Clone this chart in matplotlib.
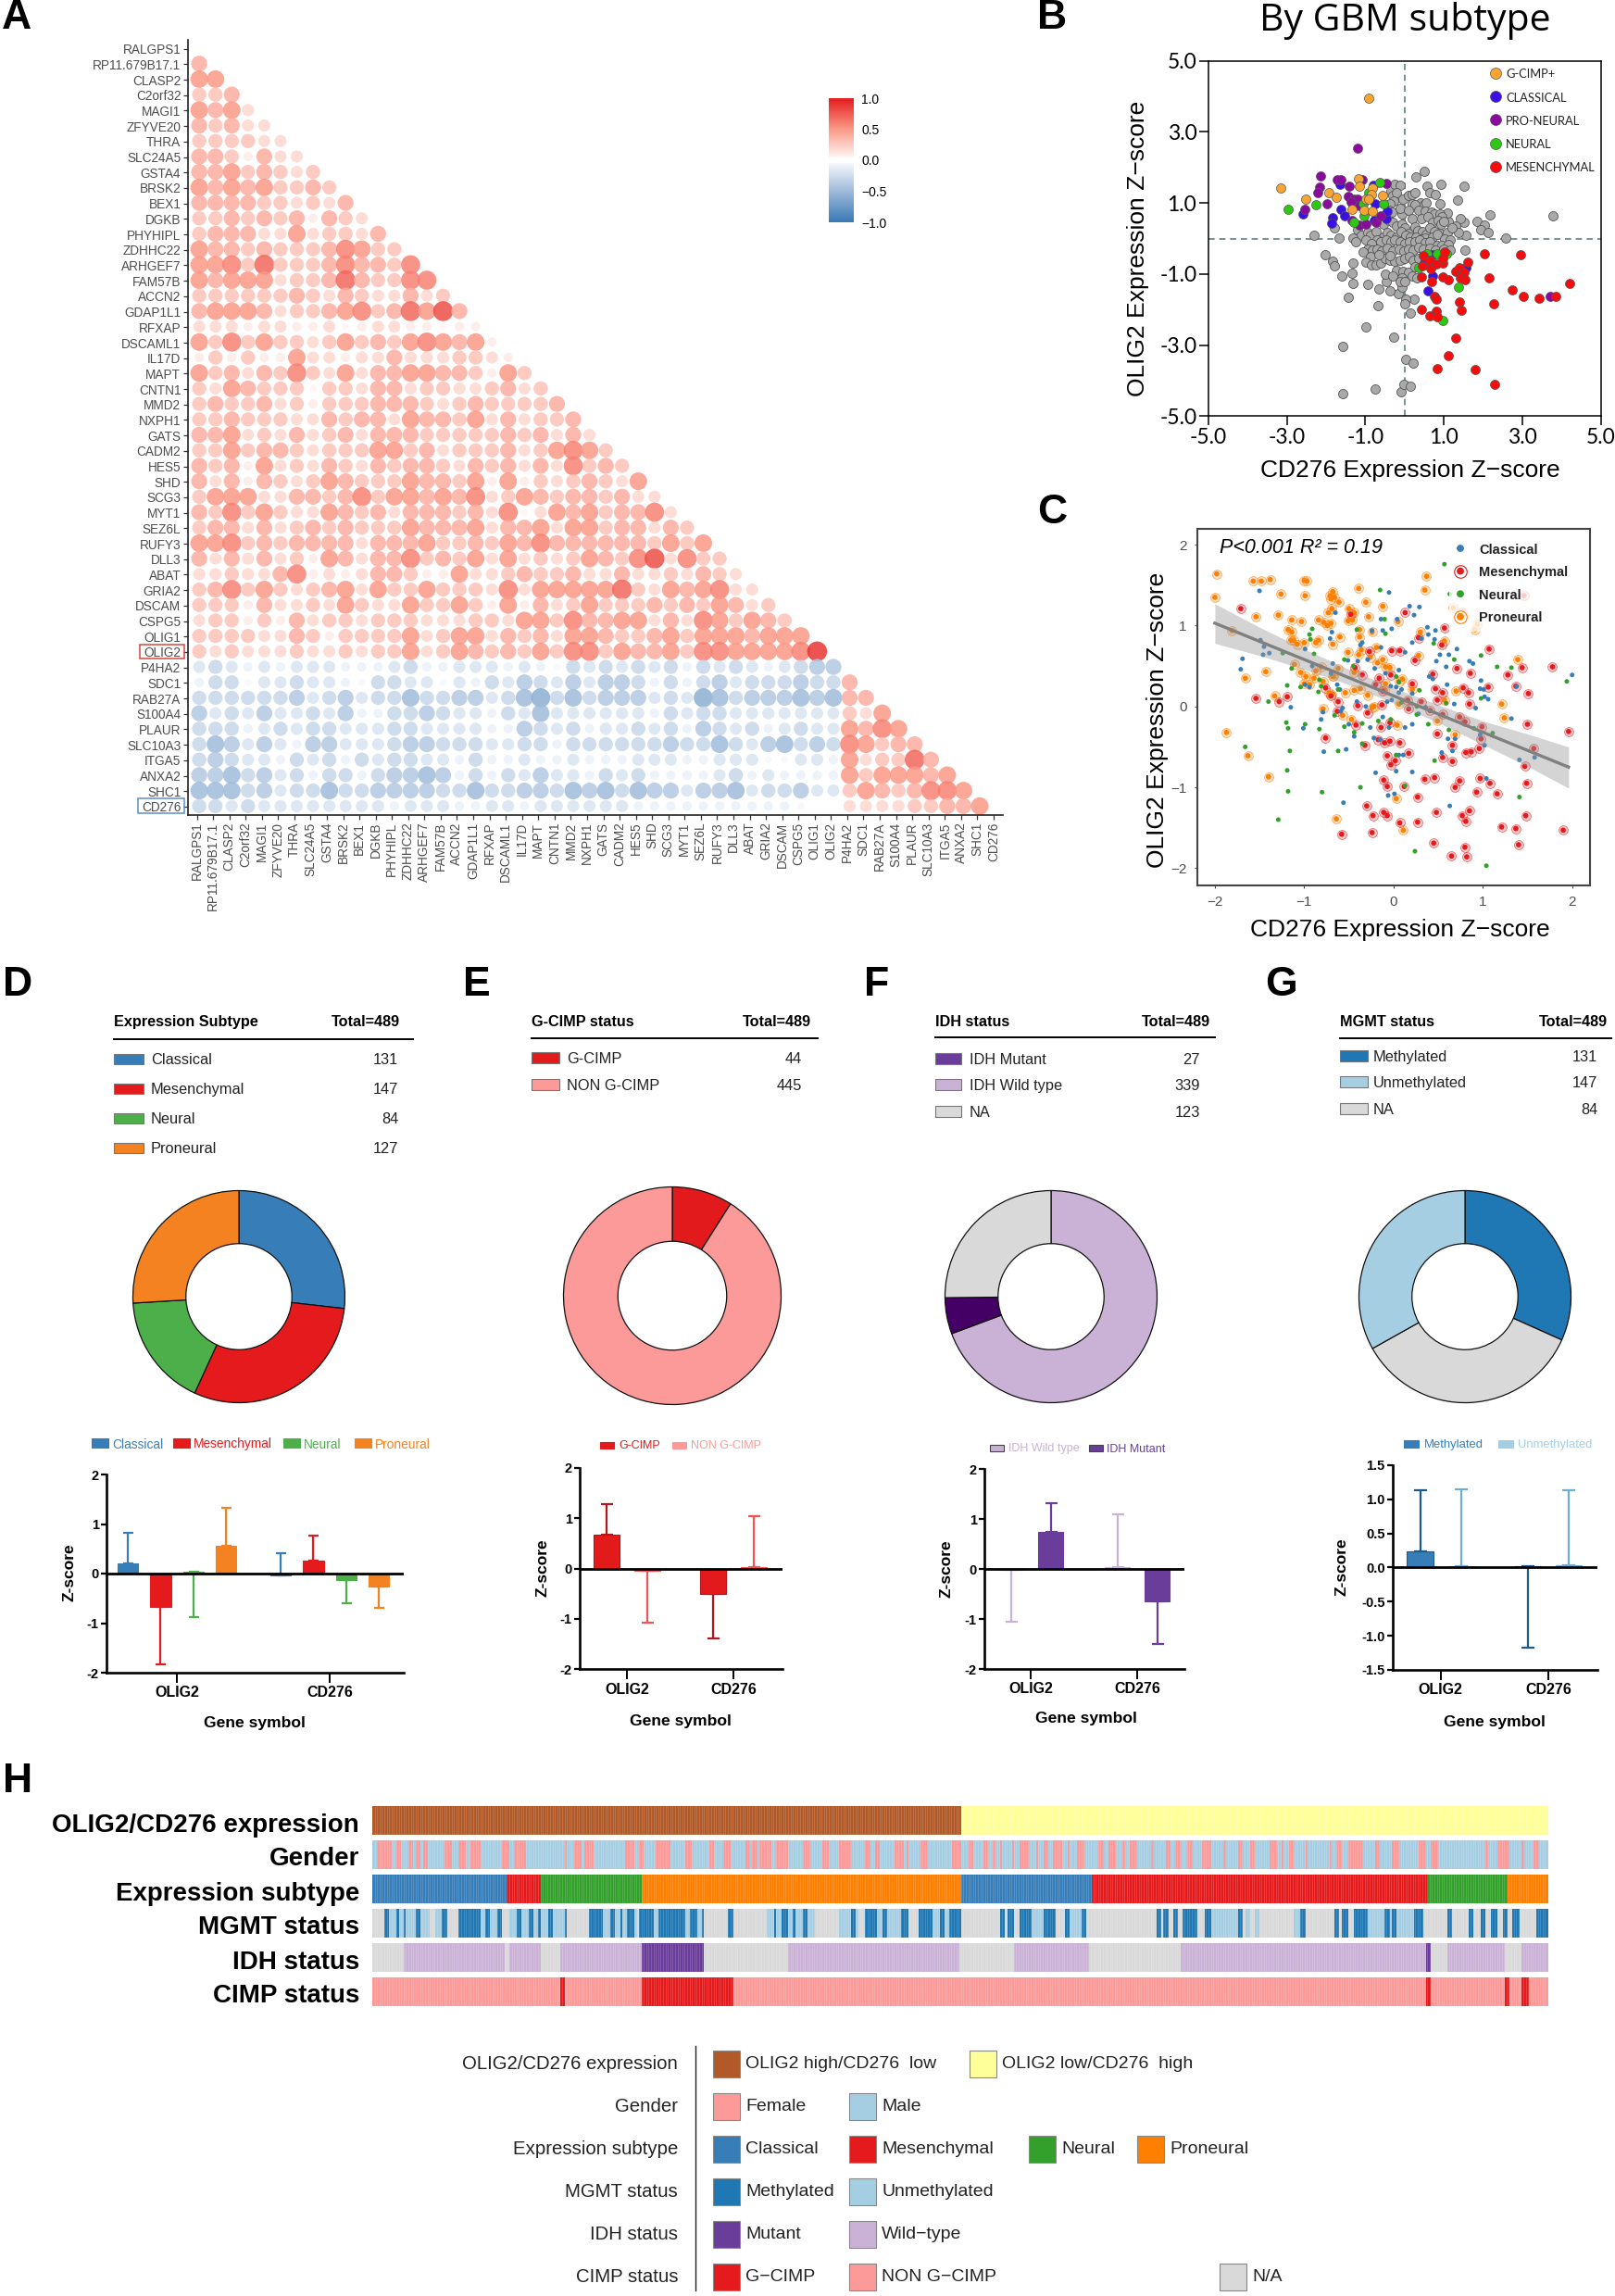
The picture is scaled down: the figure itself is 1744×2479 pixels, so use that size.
import numpy as np
import matplotlib
matplotlib.use('Agg')
from matplotlib import pyplot as plt
from matplotlib.colors import LinearSegmentedColormap, ListedColormap
from matplotlib.patches import Rectangle

plt.rcParams['font.family'] = ['Liberation Sans', 'DejaVu Sans']

W, H = 1744, 2479
fig = plt.figure(figsize=(W / 100, H / 100), dpi=100, facecolor='white')

# ---------- Panel A data: one string per row, digit = |r| * 10 (0 = tiny, . = empty)
genes = ['RALGPS1', 'RP11.679B17.1', 'CLASP2', 'C2orf32', 'MAGI1', 'ZFYVE20', 'THRA', 'SLC24A5', 'GSTA4', 'BRSK2',
         'BEX1', 'DGKB', 'PHYHIPL', 'ZDHHC22', 'ARHGEF7', 'FAM57B', 'ACCN2', 'GDAP1L1', 'RFXAP', 'DSCAML1',
         'IL17D', 'MAPT', 'CNTN1', 'MMD2', 'NXPH1', 'GATS', 'CADM2', 'HES5', 'SHD', 'SCG3',
         'MYT1', 'SEZ6L', 'RUFY3', 'DLL3', 'ABAT', 'GRIA2', 'DSCAM', 'CSPG5', 'OLIG1', 'OLIG2',
         'P4HA2', 'SDC1', 'RAB27A', 'S100A4', 'PLAUR', 'SLC10A3', 'ITGA5', 'ANXA2', 'SHC1', 'CD276']
corr_rows = ['', '4', '55', '334', '5452', '43422', '333322', '4431422', '44534323', '545453343',
             '4444332324', '33434341432', '344422523324', '5443433346533', '55637333464436', '545552334743366',
             '3333334324322423', '45554233456347584', '222122112012211011', '5363533235343565451',
             '13131152212242223321', '534243632524455443153', '3254333033244233223423',
             '34334231333444323433' + '334', '33433322434425443524' + '2334',
             '44523242342444333334' + '34242', '33534432333553423334' + '235653',
             '43415232432434432434' + '2426343', '42414323543335443515' + '13234325',
             '35552244346355454623' + '543443422', '43635322543424443426' + '0254534462',
             '34424234343335444524' + '45255344243', '55634344442444533435' + '464444443535',
             '42424231542446343525' + '2323543682633', '22322461212443115223' + '43342242232432',
             '34635323452533533326' + '255555732545622', '33314223253225335315' + '1423533343435423',
             '23313142332333222332' + '55364455242653543', '33332243133335235524' + '342554334535554555',
             '32322232232335235434' + '3536635445366555569',
             '23212122211123112221' + '21032323231323212344',
             '13302232210332202132' + '43242443131342333433' + '4',
             '33333342342335334423' + '56353444232653444545' + '44',
             '42324223241133432213' + '25222222132332222222' + '325',
             '33312323322233222211' + '43231223231432312322' + '5465',
             '35424214422234433322' + '33133333343353245343' + '65344',
             '34322132313233221311' + '21121112221122200221' + '523374',
             '44534231331344541313' + '24221323111123121111' + '5355545',
             '55534233533444433533' + '44354535442445233422' + '35434665',
             '33232222222212221122' + '122222211111111110..' + '222233445']
n_neg_cols = 40
n_neg_start = 40

# ---------- Panel B data (CD276 z, OLIG2 z)
b_gcimp = [(-.92, 3.96), (-3.15, 1.43), (-2.51, 1.11), (-1.94, 1.28), (-1.75, 1.17), (-1.18, 1.69), (-1.16, 1.46),
           (-.82, 1.43), (-.84, 1.25), (-.57, 1.22), (-.99, 1.12), (-.92, 1.10), (-1.03, .80), (-.82, .77), (-1.33, .83)]
b_classical = [(-2.59, .68), (-1.84, .58), (-1.86, .43), (-1.63, .83), (-1.53, .65), (-1.64, 1.52), (-.81, 1.5),
               (-.48, .57), (-.44, .78), (-.78, .5), (-.75, .97), (.58, -1.46), (.72, -1.06), (1.57, -.82), (.49, -.68), (.7, -.46)]
b_proneural = [(-1.21, 2.53), (-2.15, 1.76), (-2.16, 1.44), (-2.21, 1.3), (-2.54, .83), (-1.97, .97), (-1.71, 1.66),
               (-1.63, 1.65), (-1.41, 1.48), (-1.09, 1.65), (-.48, 1.55), (-1.43, 1.19), (-1.29, 1.1), (-1.2, 1.1),
               (-1.16, .93), (-1.37, 1.02), (-1.16, .39), (-.99, .41), (-.74, .45), (-.61, .65), (3.71, -1.64), (-1.33, .5)]
b_neural = [(-2.97, .82), (-2.25, .94), (-1.3, .46), (-1.03, .64), (-1.06, .97), (-.92, 1.28), (-.64, 1.57), (-.53, .97),
            (.36, -.83), (.56, -.43), (.83, -.42), (1.06, -.44), (1.38, -1.36), (.98, -2.3)]
b_mesenchymal = [(.47, -.48), (.45, -.78), (.65, -.62), (.66, -.85), (.81, -.72), (.98, -.68), (.98, -.55), (1.01, -.37),
                 (.43, -1.08), (.69, -1.22), (.98, -1.09), (1.1, -1.16), (1.29, -.93), (1.4, -.83), (1.51, -.94), (1.61, -.67),
                 (1.42, -1.11), (1.53, -1.16), (2.03, -.44), (2.95, -.46), (2.14, -1.11), (2.73, -1.44), (3.03, -1.62),
                 (3.42, -1.68), (3.84, -1.64), (4.2, -1.26), (2.26, -1.83), (.76, -1.62), (.81, -1.7), (1.4, -1.78), (1.43, -2.02),
                 (.42, -1.99), (.8, -2.04), (.64, -2.18), (.83, -2.2), (1.31, -2.8), (1.12, -3.29), (.83, -3.65), (1.79, -3.69), (2.28, -4.1)]
b_other = [(-2.3, .08), (-1.68, .02), (-1.8, .3), (-2.03, -.45), (-1.84, -.65), (-1.78, -.77), (-1.59, -1.05), (-1.34, -.98),
           (-1.32, -1.26), (-1.31, -.7), (-.94, -1.29), (-.65, -1.43), (-1.44, -1.66), (-.67, -1.88), (-.98, -2.48), (-.29, -2.77),
           (-1.58, -3.04), (.02, -3.39), (.22, -3.51), (-.76, -4.23), (-1.57, -4.36), (-.1, -4.32), (-.01, -4.11), (.15, -4.17),
           (.15, -2.11), (.24, -1.7), (.03, -1.72), (.01, -1.83), (-.16, -1.55), (-.37, -1.48), (-.06, -1.37), (-.48, -1.22), (-.5, -1),
           (.5, 1.9), (.29, 1.73), (.92, 1.53), (1.5, 1.46), (.57, 1.47), (.64, 1.29), (1.34, 1.09), (.79, 1.23), (.9, .99),
           (2.17, .66), (3.77, .65), (1.85, .48), (2.02, .37), (1.93, .26), (2.12, .17), (2.58, .02), (1.55, .09), (1.51, .45),
           (1.42, .57), (1.3, .34), (1.38, .17), (1.11, .47), (1.08, .71), (1.53, -.33),
           (-.35, 1.35), (-.25, 1.53), (-.12, 1.51), (-.3, 1.2), (-.2, 1.28), (-.05, 1.1), (.1, 1.22), (.2, 1.25), (.27, 1.28), (.4, 1.0),
           (.5, .95), (.55, 1.0), (.2, .98), (.25, .95), (-.28, 1.05), (-.38, .97), (-.4, .8), (-.32, .75), (-.08, .7), (-.12, .85),
           (.1, .8), (.35, .8), (.52, .77), (.68, .75), (.75, .7), (.9, .7), (.95, .6), (.2, .57), (.42, .55), (.6, .62), (.71, .45),
           (.85, .5), (.92, .4), (1.0, .47), (-.55, .4), (-.4, .5), (-.3, .45), (-.2, .35), (-.08, .4), (0, .3), (.1, .15), (.27, .33),
           (.33, .22), (.45, .2), (.55, .12), (.65, .3), (.75, .2), (.9, .15), (1.08, .17), (1.2, .3), (-1.2, .25), (-1.1, .1),
           (-.95, .18), (-.87, .1), (-.72, .2), (-.55, .05), (-.45, .18), (-.35, .1), (-.2, .05), (-.1, .2), (.02, .1), (.15, .05),
           (.28, .03), (.42, 0), (.52, .02), (.7, .05), (.83, .12), (1.02, -.02), (1.15, -.05), (-1.31, .02), (-1.25, -.08), (-.98, -.05),
           (-.7, -.05), (-.85, -.15), (-.6, -.1), (-.48, -.05), (-.36, -.1), (-.25, -.03), (-.12, -.1), (.0, -.15), (.13, -.08), (.25, -.1),
           (.38, -.05), (.52, -.13), (.63, -.1), (.82, -.2), (.95, -.2), (1.1, -.18), (-.95, -.3), (-1.05, -.38), (-.82, -.32), (-.7, -.3),
           (-.58, -.35), (-.45, -.28), (-.3, -.35), (-.15, -.3), (-.03, -.35), (.1, -.3), (.22, -.33), (.35, -.25), (.48, -.3), (.65, -.28),
           (.78, -.33), (1.0, -.3), (1.15, -.32), (-.88, -.5), (-.98, -.66), (-.85, -.73), (-.72, -.75), (-.62, -.7), (-.5, -.55),
           (-.38, -.62), (-.25, -.65), (-.12, -.62), (0, -.55), (.12, -.52), (.22, -.6), (.35, -.55), (-.38, -.47), (-.65, -.45),
           (-.2, -.9), (-.05, -.92), (.1, -.95), (.2, -1.05), (.32, -1.12), (-.3, -1.05), (-.08, -1.1), (-.12, -1.2), (.0, -1.2), (.27, -.8)]
b_ticks = [-5, -3, -1, 1, 3, 5]

# ---------- Panel C data
c_proneural = [(-1.98, 1.64), (-2, 1.35), (-1.57, 1.55), (-1.48, 1.55), (-1.38, 1.57), (-1.26, 1.39), (-1, 1.56), (-.97, 1.55), (-.99, 1.37),
               (-.68, 1.42), (-.71, 1.37), (-.66, 1.35), (-.7, 1.33), (-.61, 1.29), (-.39, 1.46), (-.31, 1.29), (-.12, 1.24), (.35, 1.44), (.37, 1.61),
               (-1.54, 1.11), (-1.29, 1.13), (-1.14, 1.07), (-1.03, 1.05), (-.84, 1.07), (-.78, 1.04), (-.74, 1), (-.7, 1.03), (-.69, 1.21), (-.73, 1.16),
               (-.5, 1.21), (-.44, 1.16), (-.51, 1.06), (-.46, 1.07), (-.28, 1.11), (.05, 1.05), (-1.81, .94), (-1.18, .95), (-1.14, .92), (-1.15, .82),
               (-1.12, .82), (-1.08, .77), (-1, .79), (-.87, .79), (-.84, .82), (-.68, .77), (-.6, .86), (-.38, .95), (-.38, .86), (-.24, .92), (.3, .92),
               (.57, .81), (-.51, .67), (-.39, .64), (-.36, .7), (-.26, .61), (-.19, .73), (-.18, .54), (-.12, .58), (-.09, .49), (-.04, .48), (.28, .63),
               (1.39, .58), (-1.66, .35), (-1.43, .43), (-1.11, .52), (-1.04, .42), (-.98, .37), (-1, .28), (-.94, .27), (-.89, .35), (-.87, .44), (-.81, .49),
               (-.79, .31), (-.68, .37), (-.67, .37), (-.62, .47), (-.44, .42), (.1, .34), (.06, .31), (-.09, .28), (.21, .21), (.7, .19), (-1.33, .13),
               (-.72, .17), (-.69, .15), (-.54, .17), (-.44, .2), (-.37, .22), (-.29, .14), (-.1, .2), (.57, .08), (1.21, .03), (-.79, -.03), (-.57, -.11),
               (-.22, 0), (-.24, -.01), (.06, .03), (1.24, -.14), (-.47, -.16), (.04, -.23), (.49, -.18), (.69, -.35), (-1.87, -.32), (-1.63, -.61),
               (-1.4, -.87), (.03, -1.14), (-.64, -1.39), (.11, -1.53), (.91, .95), (.94, 1.02), (.67, 1.22)]
c_mesenchymal = [(-1.71, 1.21), (-.48, 1.14), (.13, 1.16), (.28, .85), (.54, .76), (1.07, .71), (-.27, .68), (-.02, .69), (.07, .69), (.24, .57), (.71, .47),
                 (.86, .41), (1.28, .39), (1.44, .48), (1.78, .49), (.44, .4), (-.43, .48), (-.35, .39), (-.16, .35), (-.03, .39), (.21, .28), (.47, .22), (.55, .17),
                 (.78, .23), (.84, .17), (1.06, .24), (1.37, .25), (1.51, .16), (-1.54, .1), (-1.28, .06), (-1.19, .12), (-.76, .23), (-.7, .13), (-.62, .06), (-.4, .01),
                 (-.13, .02), (-.2, .27), (-.12, .19), (.16, .08), (.31, .06), (.49, .08), (.85, .03), (.17, -.03), (-.29, -.08), (-.63, -.06), (.41, -.05), (.55, -.1),
                 (.74, -.13), (.8, -.19), (.99, -.25), (1.5, -.22), (1.96, -.31), (-.42, -.23), (-.14, -.26), (-.04, -.2), (.49, -.34), (.98, -.4), (-.76, -.39), (-.32, -.48),
                 (-.17, -.41), (-.1, -.45), (-.04, -.43), (.07, -.45), (.66, -.48), (.96, -.52), (1.57, -.52), (.81, -.57), (.87, -.56), (.17, -.58), (-.07, -.61), (.55, -.63),
                 (.02, -.67), (-.03, -.72), (.66, -.68), (1.47, -.74), (-.11, -.91), (-.07, -.99), (.12, -.99), (.35, -.9), (.46, -.88), (.74, -.92), (.97, -.89), (1.08, -.95),
                 (1.49, -.95), (.69, -1), (.93, -1.06), (1.16, -1.08), (.27, -1.12), (-.3, -1.23), (.48, -1.31), (-.11, -1.31), (-.23, -1.35), (-.07, -1.35), (.77, -1.35),
                 (.85, -1.29), (1.48, -1.35), (.81, -1.42), (.07, -1.44), (.27, -1.43), (1.21, -1.49), (1.37, -1.51), (1.9, -1.53), (-.58, -1.58), (-.24, -1.56), (.45, -1.69),
                 (1.4, -1.71), (.8, -1.74), (.65, -1.85), (.82, -1.86), (1.46, 1.37), (.77, 1.16), (.57, .97)]
c_classical = [(-1.5, 1.43), (-.05, 1.41), (.18, 1.24), (.29, 1.23), (.23, 1.13), (-.65, 1.16), (.04, 1.08), (-.14, 1.08), (-.12, .94), (-.02, .96), (-.24, .94),
               (.38, .98), (.47, .94), (.39, .89), (.31, .84), (.46, .83), (.21, .79), (-.69, .92), (-.71, .84), (-1.49, .82), (-1.45, .74), (-1.46, .64), (-1.39, .66),
               (-1.69, .59), (-1.71, .46), (-.99, .71), (-.37, .76), (-.35, .79), (-.14, .73), (.13, .67), (.71, .71), (.52, .64), (.62, .64), (.48, .56), (.59, .49),
               (.85, .56), (.89, .53), (-.51, .57), (-.4, .56), (-.29, .58), (-.21, .47), (.06, .45), (-.91, .5), (-.68, .53), (-.7, .41), (-.09, .41), (.4, .37), (.44, .34),
               (.6, .27), (.98, .32), (.97, .22), (1.01, .21), (1.38, .25), (2, .39), (-.99, .27), (-.94, .24), (-.63, .27), (-.6, .21), (-.03, .25), (.03, .24), (.09, .21),
               (.06, .17), (.21, .16), (1.02, .12), (1.06, .09), (-.07, .06), (-.02, .08), (-.41, .06), (-.31, 0), (.68, .03), (-1.15, -.01), (-.57, -.02), (-.59, -.06),
               (-.79, -.07), (.92, -.02), (.28, -.09), (.36, -.01), (-.12, -.13), (-.81, -.16), (-.5, -.22), (-.26, -.26), (-.05, -.26), (.13, -.26), (.21, -.22), (-1.01, -.27),
               (-.44, -.37), (-.22, -.39), (-.15, -.41), (1.32, -.15), (.97, -.35), (.61, -.4), (.69, -.4), (1.02, -.48), (.66, -.55), (.54, -.57), (-.78, -.56), (-.53, -.53),
               (.06, -.6), (.11, -.6), (1.41, -.66), (1.58, -.63), (.03, -.8), (-.2, -.82), (.21, -.81), (1.04, -.89), (-.06, -1.1), (.01, -1.08), (-.56, -1.19), (.63, -1.23)]
c_neural = [(.57, 1.76), (.63, 1.39), (.98, 1.43), (-.15, 1.44), (-.1, 1.08), (-.41, .95), (-.09, .9), (-.94, .89), (-.91, .96), (-.93, .83), (.45, .78), (-.89, .65),
            (-1.24, .66), (.98, .63), (-.55, .58), (-.45, .5), (.68, .58), (-1.14, .47), (1.16, .49), (1.32, .48), (1.94, .31), (-1.19, .26), (-1.04, .24), (-.83, .33),
            (-.81, .25), (-.84, .18), (-.62, .21), (.03, .37), (.06, .3), (.29, .2), (-1.4, .06), (.98, .1), (.59, .04), (.26, 0), (.09, .05), (-.66, -.11), (.26, -.1),
            (-1.2, -.2), (-.99, -.22), (-1.18, -.27), (-.83, -.28), (-.55, -.25), (-.35, -.21), (-.44, -.32), (-.03, -.16), (-.17, -.18), (.39, -.22), (.62, -.29),
            (.9, -.27), (1.11, -.33), (-1.66, -.5), (-1.16, -.55), (-.35, -.46), (-.62, -.55), (.03, -.6), (.46, -.67), (-1.19, -.79), (-.37, -1), (.13, -.98), (-.8, -1.06),
            (-1.18, -1.05), (1.41, -1.12), (-1.29, -1.4), (.24, -1.79), (1.04, -1.97)]
c_band_x = [-2, -1.5, -1, -.5, 0, .5, 1, 1.5, 1.96]
c_band_up = [1.27, .98, .71, .46, .23, .02, -.18, -.34, -.5]
c_band_lo = [.78, .63, .46, .27, .04, -.2, -.47, -.74, -1.01]
c_fit_x = [-2, 1.96]
c_fit_y = [1.03, -.75]

# ---------- Panels D-G data
d_labels = ['Classical', 'Mesenchymal', 'Neural', 'Proneural']
d_counts = [131, 147, 84, 127]
e_labels = ['G-CIMP', 'NON G-CIMP']
e_counts = [44, 445]
f_labels = ['IDH Mutant', 'IDH Wild type', 'NA']
f_counts = [27, 339, 123]
f_slices = [339, 27, 123]
g_labels = ['Methylated', 'Unmethylated', 'NA']
g_counts = [131, 147, 84]
g_slices = [155, 172, 162]
genes_bar = ['OLIG2', 'CD276']

d_bar = [[.2, -.68, .03, .57], [-.03, .27, -.13, -.27]]
d_end = [[.83, -1.83, -.87, 1.33], [.42, .76, -.6, -.7]]
e_bar = [[.68, -.05], [-.5, .03]]
e_end = [[1.28, -1.07], [-1.4, 1.05]]
f_bar = [[-.02, .75], [.04, -.65]]
f_end = [[-1.05, 1.31], [1.1, -1.5]]
g_bar = [[.24, .02], [.02, .04]]
g_end = [[1.14, 1.15], [-1.18, 1.14]]

# ---------- Panel H data, sample index runs as (start, length)
n_samples = 489
expr_high_n = 245
subtype_runs = [(0, 56), (1, 14), (2, 42), (3, 133), (0, 54), (1, 140), (2, 33), (3, 17)]
female_runs = [(2, 6), (10, 2), (15, 2), (18, 2), (21, 2), (30, 3), (36, 3), (41, 4), (54, 3), (59, 5), (80, 1), (84, 3), (88, 4), (105, 4), (111, 2), (118, 6),
               (130, 3), (140, 2), (146, 3), (155, 2), (158, 2), (161, 5), (168, 5), (179, 3), (187, 3), (194, 5), (205, 2), (209, 2), (217, 4), (222, 1), (228, 3),
               (241, 4), (248, 2), (254, 2), (258, 1), (261, 1), (266, 1), (269, 4), (276, 1), (279, 2), (283, 4), (289, 1), (293, 3), (302, 2), (306, 3), (312, 1),
               (315, 3), (324, 1), (330, 2), (334, 2), (339, 2), (345, 4), (354, 1), (360, 2), (365, 2), (373, 3), (378, 1), (381, 2), (388, 1), (398, 1), (401, 2),
               (406, 6), (417, 2), (424, 3), (435, 3), (440, 3), (463, 1), (468, 5), (478, 1), (483, 2)]
mgmt_light = [(5, 19), (26, 5), (36, 17), (57, 24), (96, 14), (111, 27), (164, 20), (194, 8), (210, 13), (227, 18), (274, 10), (288, 9), (349, 13), (363, 2), (367, 2),
              (383, 5), (414, 23)]
mgmt_dark = [(5, 2), (10, 1), (13, 1), (18, 2), (29, 2), (36, 9), (47, 2), (52, 2), (60, 2), (65, 2), (69, 1), (73, 2), (80, 1), (90, 6), (99, 2), (103, 1), (106, 3),
             (111, 6), (119, 11), (132, 3), (137, 1), (148, 2), (167, 1), (170, 3), (175, 1), (179, 2), (199, 2), (205, 5), (212, 2), (220, 3), (227, 6), (236, 2),
             (240, 5), (261, 2), (264, 3), (269, 5), (279, 5), (288, 2), (295, 2), (326, 2), (329, 2), (333, 2), (337, 6), (346, 3), (360, 2), (386, 2), (400, 2),
             (403, 3), (408, 6), (421, 2), (424, 2), (433, 4), (447, 2), (456, 2), (461, 2), (465, 3), (470, 2), (474, 3), (484, 5)]
idh_wild = [(13, 42), (57, 13), (78, 34), (173, 71), (267, 31), (336, 102), (447, 24), (478, 11)]
idh_mutant = [(112, 26), (438, 2)]
cimp_red = [(78, 2), (112, 38), (438, 2), (471, 2), (478, 3)]


def px_axes(left, top, right, bottom, **kw):
    # axes given in picture pixels, y from the top
    return fig.add_axes([left / W, 1 - bottom / H, (right - left) / W, (bottom - top) / H], **kw)


# ---------- overlay for free text and table parts
pg = px_axes(0, 0, W, H, zorder=20)
pg.set_xlim(0, W)
pg.set_ylim(H, 0)
pg.axis('off')
pg.patch.set_alpha(0)


def txt(x, y, s, size=12, ha='left', va='center', color='black', weight='normal', **kw):
    if kw.get('rotation') == 90:
        x = x + 1.5
    else:
        y = y + 1.5
    return pg.text(x, y, s, fontsize=size, ha=ha, va=va, color=color, fontweight=weight, **kw)


def swatch(x0, x1, y, h, color, edge='#777777'):
    pg.add_patch(Rectangle((x0, y - h / 2), x1 - x0, h, facecolor=color, edgecolor=edge, linewidth=0.8))


for letter, lx, ly in [('A', 2, 18), ('B', 1120, 18), ('C', 1120, 552), ('D', 3, 1062), ('E', 500, 1062), ('F', 933, 1062), ('G', 1366, 1062), ('H', 3, 1922)]:
    txt(lx, ly, letter, size=32, weight='bold')

# ---------- Panel A
rb_cmap = LinearSegmentedColormap.from_list('rb', [(0, '#3a7ab5'), (.25, '#a0bbdb'), (.5, '#ffffff'), (.75, '#fc9a88'), (1, '#e41f1f')])
col_px0, col_dx, row_px0, row_dy = 212.5, 17.56, 52.7, 16.7
ax = px_axes(203, 43, 1083, 880)
ax.set_xlim((203 - col_px0) / col_dx, (1083 - col_px0) / col_dx)
ax.set_ylim((880 - row_px0) / row_dy, (43 - row_px0) / row_dy)
xs, ys, rs = [], [], []
for i, row in enumerate(corr_rows):
    row = row[:i].ljust(i, '3')
    for j, ch in enumerate(row):
        if ch == '.':
            continue
        r = 0.04 if ch == '0' else int(ch) / 10
        if i >= n_neg_start and j < n_neg_cols:
            r = -r
        xs.append(j + 0.15)
        ys.append(i - 0.04)
        rs.append(r)
rs = np.array(rs)
dia_px = np.minimum(4 + 22 * np.abs(rs) ** 0.55, 21.5)
ax.scatter(xs, ys, s=(dia_px * 0.72) ** 2, c=rs, cmap=rb_cmap, vmin=-1, vmax=1, alpha=0.85, linewidths=0, clip_on=False)
ax.set_xticks(range(len(genes)))
ax.set_xticklabels(genes, rotation=90, fontsize=9.8, color='#4d4d4d')
ax.set_yticks(range(len(genes)))
ax.set_yticklabels(genes, fontsize=9.8, color='#4d4d4d')
ax.tick_params(length=3.5, width=0.9, color='#333333', pad=2)
ax.spines['top'].set_visible(False)
ax.spines['right'].set_visible(False)
for s in ['left', 'bottom']:
    ax.spines[s].set_linewidth(1.2)
    ax.spines[s].set_color('#222222')
pg.add_patch(Rectangle((151, 695.7), 47.7, 15.5, fill=False, edgecolor='#d9473f', linewidth=1.1))
pg.add_patch(Rectangle((148.7, 862), 50, 16, fill=False, edgecolor='#5b8fc4', linewidth=1.1))

cb = px_axes(894.7, 106, 921.7, 240)
cb.imshow(np.linspace(1, -1, 200).reshape(-1, 1), cmap=rb_cmap, vmin=-1, vmax=1, aspect='auto', extent=[0, 1, -1, 1])
cb.add_patch(Rectangle((0, -.05), 1, .1, color='white', linewidth=0))
cb.axis('off')
for v, lab in zip([1, .5, 0, -.5, -1], ['1.0', '0.5', '0.0', '\u22120.5', '\u22121.0']):
    txt(930, 173 - v * 67, lab, size=10)

# ---------- Panel B
txt(1517, 21, 'By GBM subtype', size=29.5, ha='center', family='Open Sans')
ax = px_axes(1304.8, 65.7, 1729, 449.3)
ax.set_xlim(-5, 5)
ax.set_ylim(-5, 5)
ax.axvline(0, color='#5f8080', linestyle=(0, (4, 3)), linewidth=1.2, zorder=1)
ax.axhline(0, color='#5f8080', linestyle=(0, (4, 3)), linewidth=1.2, zorder=1)
b_groups = [('G-CIMP+', b_gcimp, '#f9a533'), ('CLASSICAL', b_classical, '#3a10e5'), ('PRO-NEURAL', b_proneural, '#8b0a9e'),
            ('NEURAL', b_neural, '#2dc813'), ('MESENCHYMAL', b_mesenchymal, '#f50d0d')]
pts = np.array(b_other)
ax.scatter(pts[:, 0], pts[:, 1], s=52, color='#a9a9a9', edgecolor='#555555', linewidths=0.6, zorder=2)
for name, group, color in [b_groups[1], b_groups[2], b_groups[3], b_groups[0], b_groups[4]]:
    pts = np.array(group)
    ax.scatter(pts[:, 0], pts[:, 1], s=52, color=color, edgecolor='#555555', linewidths=0.5, zorder=3)
ax.set_xticks(b_ticks)
ax.set_yticks(b_ticks)
ax.set_xticklabels(['%.1f' % t for t in b_ticks], family='Lato', fontsize=16.5)
ax.set_yticklabels(['%.1f' % t for t in b_ticks], family='Lato', fontsize=16.5)
ax.tick_params(length=7, width=1.1, pad=2)
for s in ax.spines.values():
    s.set_linewidth(1.1)
for i, (name, group, color) in enumerate(b_groups):
    y = 79 + i * 25.2
    pg.scatter([1615], [y], s=75, color=color, edgecolor='#555555', linewidths=0.5)
    txt(1626, y, name, size=9.3, family='Lato', color='#222222')
txt(1523, 506, 'CD276 Expression Z\u2212score', size=19, ha='center')
txt(1227, 268, 'OLIG2 Expression Z\u2212score', size=19, ha='center', rotation=90)

# ---------- Panel C
ax = px_axes(1292.6, 570.7, 1717, 955.7)
ax.set_xlim(-2.2, 2.2)
ax.set_ylim(-2.21, 2.2)
ax.set_xticks([-2, -1, 0, 1, 2])
ax.set_yticks([-2, -1, 0, 1, 2])
ax.tick_params(length=2, width=0.8, labelsize=11, labelcolor='#4d4d4d', color='#4d4d4d', pad=6)
for s in ax.spines.values():
    s.set_linewidth(1.5)
    s.set_color('#444444')
c_blue, c_red, c_green, c_orange = '#377eb8', '#e41a1c', '#33a02c', '#ff7f00'
for group, color in [(c_proneural, c_orange), (c_mesenchymal, c_red)]:
    pts = np.array(group)
    ax.scatter(pts[:, 0], pts[:, 1], s=50, facecolor=matplotlib.colors.to_rgba(color, 0.22),
               edgecolor=matplotlib.colors.to_rgba(color, 0.6), linewidths=0.6, zorder=2)
    ax.scatter(pts[:, 0], pts[:, 1], s=17, facecolor=color, edgecolor='none', zorder=3)
for group, color in [(c_classical, c_blue), (c_neural, c_green)]:
    pts = np.array(group)
    ax.scatter(pts[:, 0], pts[:, 1], s=13, facecolor=color, edgecolor='none', zorder=3)
ax.fill_between(c_band_x, c_band_lo, c_band_up, color='#999999', alpha=0.42, linewidth=0, zorder=4)
ax.plot(c_fit_x, c_fit_y, color='#808080', linewidth=2.4, zorder=5)
txt(1317, 590, 'P<0.001 R\u00b2 = 0.19', size=15.5, style='italic')
pg.add_patch(Rectangle((1565, 580), 135, 102, facecolor='white', edgecolor='none', alpha=0.78))
for i, (name, color, ring) in enumerate([('Classical', c_blue, False), ('Mesenchymal', c_red, True), ('Neural', c_green, False), ('Proneural', c_orange, True)]):
    y = 592 + i * 24.6
    if ring:
        pg.scatter([1577], [y], s=95, facecolor='white', edgecolor=color, linewidths=0.8)
        pg.scatter([1577], [y], s=32, facecolor=color, edgecolor='none')
    else:
        pg.scatter([1577], [y], s=32, facecolor=color, edgecolor='none')
    txt(1597, y, name, size=10.5, weight='bold', color='#222222')
txt(1512, 1002, 'CD276 Expression Z\u2212score', size=19, ha='center')
txt(1248, 777, 'OLIG2 Expression Z\u2212score', size=19, ha='center', rotation=90)


# ---------- Panels D-G tables, donuts, bars
def table(title, x0, x1, total_x, rule_y, title_y, row_ys, labels, counts, colors, sw, text_x, num_x, sw_h=12):
    txt(x0, title_y, title, size=11.7, weight='bold')
    txt(total_x, title_y, 'Total=489', size=11.7, weight='bold', ha='right')
    pg.plot([x0, x1], [rule_y, rule_y], color='black', linewidth=1.4)
    for y, lab, n, c in zip(row_ys, labels, counts, colors):
        swatch(sw[0], sw[1], y, sw_h, c)
        txt(text_x, y, lab, size=11.8, color='#222222')
        txt(num_x, y, str(n), size=11.8, ha='right', color='#222222')


def donut(cx, cy, r, values, colors):
    a = px_axes(cx - r * 1.03, cy - r * 1.03, cx + r * 1.03, cy + r * 1.03)
    a.pie(values, colors=colors, startangle=90, counterclock=False, radius=1, wedgeprops=dict(width=0.5, edgecolor='#111111', linewidth=0.9))
    a.set_xlim(-1.03, 1.03)
    a.set_ylim(-1.03, 1.03)


def bars(box, ylim, yticks, ylabs, tick_px, step_px, width_px, vals, ends, fills, errs, cap_px, ylab_x, ylab_y, lab_y, gene_x, gene_y):
    left, top, right, bottom = box
    gap = tick_px[1] - tick_px[0]
    a = px_axes(left, top, right, bottom)
    a.patch.set_alpha(0)
    a.set_xlim((left - tick_px[0]) / gap, (right - tick_px[0]) / gap)
    a.set_ylim(*ylim)
    n = len(fills)
    for g in range(2):
        for i in range(n):
            x = g + (i - (n - 1) / 2) * step_px / gap
            v, e = vals[g][i], ends[g][i]
            a.bar(x, v, width=width_px / gap, color=fills[i], edgecolor=errs[i], linewidth=0.8, zorder=2)
            yerr = [[0], [e - v]] if e > v else [[v - e], [0]]
            a.errorbar([x], [v], yerr=yerr, fmt='none', ecolor=errs[i], elinewidth=1.6, capsize=cap_px * 0.36, capthick=1.6, zorder=1)
    a.axhline(0, color='black', linewidth=2.0, zorder=3)
    a.spines['top'].set_visible(False)
    a.spines['right'].set_visible(False)
    for s in ['left', 'bottom']:
        a.spines[s].set_linewidth(1.9)
    a.set_xticks([0, 1])
    a.set_xticklabels([])
    a.set_yticks(yticks)
    a.set_yticklabels(ylabs, fontsize=10.5, fontweight='bold')
    a.tick_params(axis='y', length=4.5, width=1.6, pad=1.5)
    a.tick_params(axis='x', length=8, width=1.4)
    for px, g in zip(tick_px, genes_bar):
        txt(px, lab_y, g, size=11.5, weight='bold', ha='center')
    txt(ylab_x, ylab_y, 'Z-score', size=12.5, weight='bold', ha='center', rotation=90)
    txt(gene_x, gene_y, 'Gene symbol', size=12.6, weight='bold', ha='center')


# D
d_colors = ['#377eb8', '#e41a1c', '#4daf4a', '#f58220']
table('Expression Subtype', 123, 446, 432, 1122, 1102, [1143, 1175, 1207, 1239], d_labels, d_counts, d_colors, (123, 155), 163, 430, 11)
donut(258, 1400, 114.5, d_counts, d_colors)
bars((115, 1592, 436, 1806), (-2, 2), [-2, -1, 0, 1, 2], ['-2', '-1', '0', '1', '2'], [191, 356], 35.4, 22.4, d_bar, d_end, d_colors, d_colors, 11, 73, 1698, 1826, 275, 1859)
for lab, sx0, tx, c in zip(d_labels, [99, 187, 306, 383], [121, 209, 328, 405], d_colors):
    swatch(sx0, sx0 + 18, 1558, 10, c, edge=c)
    txt(tx, 1558, lab, size=9.9, color=c)

# E
e_colors = ['#e31a1c', '#fb9a99']
table('G-CIMP status', 574, 883, 876, 1121, 1102, [1142, 1171], e_labels, e_counts, e_colors, (574, 604), 612, 866)
donut(726, 1399, 117.5, e_counts, e_colors)
bars((626, 1585, 845, 1802), (-2, 2), [-2, -1, 0, 1, 2], ['-2', '-1', '0', '1', '2'], [677, 792], 44, 28, e_bar, e_end, ['#e31a1c', '#fb9a99'], ['#b2151c', '#f2545a'], 13, 584, 1693, 1823, 735, 1857)
for lab, sx0, tx, c in zip(['G-CIMP', 'NON G-CIMP'], [648, 726], [668, 746], e_colors):
    swatch(sx0, sx0 + 15, 1560, 7, c, edge=c)
    txt(tx, 1560, lab, size=9, color=c)

# F
f_legend_colors = ['#6a3d9a', '#cab2d6', '#d9d9d9']
table('IDH status', 1010, 1312, 1307, 1120, 1102, [1143, 1171, 1200], f_labels, f_counts, f_legend_colors, (1010, 1038), 1047, 1296)
donut(1135, 1400, 114.5, f_slices, ['#cab2d6', '#440064', '#d9d9d9'])
bars((1063, 1586, 1279, 1802), (-2, 2), [-2, -1, 0, 1, 2], ['-2', '-1', '0', '1', '2'], [1113, 1228], 43, 26.5, f_bar, f_end, ['#cab2d6', '#6a3d9a'], ['#cab2d6', '#6a3d9a'], 13, 1020, 1694, 1822, 1173, 1854)
for lab, sx0, tx, c in zip(['IDH Wild type', 'IDH Mutant'], [1069, 1176], [1089, 1195], ['#cab2d6', '#6a3d9a']):
    swatch(sx0, sx0 + 15, 1563, 7, c, edge='#444444')
    txt(tx, 1563, lab, size=9, color=c)

# G
g_colors = ['#1f78b4', '#a6cee3', '#d9d9d9']
table('MGMT status', 1447, 1740, 1736, 1121, 1102, [1140, 1168, 1197], g_labels, g_counts, g_colors, (1447, 1477), 1483, 1725)
donut(1582, 1400, 114.5, g_slices, ['#1f78b4', '#d9d9d9', '#a6cee3'])
bars((1504, 1582, 1725, 1803), (-1.5, 1.5), [-1.5, -1, -.5, 0, .5, 1, 1.5], ['-1.5', '-1.0', '-0.5', '0.0', '0.5', '1.0', '1.5'], [1555.5, 1672], 44, 28.6,
     g_bar, g_end, ['#377eb8', '#a6cee3'], ['#1d5a8e', '#6baed6'], 14, 1447, 1692, 1823, 1614, 1858)
for lab, sx0, tx, c in zip(['Methylated', 'Unmethylated'], [1516, 1618], [1538, 1639], ['#377eb8', '#a6cee3']):
    swatch(sx0, sx0 + 16, 1559, 8, c, edge=c)
    txt(tx, 1559, lab, size=9.4, color=c)


# ---------- Panel H tracks
def fill_runs(track, runs, value):
    for start, length in runs:
        track[start:start + length] = value


brown, yellow, pink, pale = '#b15928', '#ffff99', '#fb9a99', '#a6cee3'
blue, red, green, orange = '#377eb8', '#e41a1c', '#33a02c', '#ff7f00'
dark_blue, purple, lilac, grey = '#1f78b4', '#6a3d9a', '#cab2d6', '#d9d9d9'

t_expr = np.ones(n_samples, dtype=int)
t_expr[:expr_high_n] = 0
t_gender = np.ones(n_samples, dtype=int)
fill_runs(t_gender, female_runs, 0)
t_subtype = np.repeat([r[0] for r in subtype_runs], [r[1] for r in subtype_runs])
t_mgmt = np.zeros(n_samples, dtype=int)
fill_runs(t_mgmt, mgmt_light, 1)
fill_runs(t_mgmt, mgmt_dark, 2)
t_idh = np.zeros(n_samples, dtype=int)
fill_runs(t_idh, idh_wild, 1)
fill_runs(t_idh, idh_mutant, 2)
t_cimp = np.zeros(n_samples, dtype=int)
fill_runs(t_cimp, cimp_red, 1)

tracks = [('OLIG2/CD276 expression', t_expr, [brown, yellow], 1950),
          ('Gender', t_gender, [pink, pale], 1987),
          ('Expression subtype', t_subtype, [blue, red, green, orange], 2024),
          ('MGMT status', t_mgmt, [grey, pale, dark_blue], 2061),
          ('IDH status', t_idh, [grey, lilac, purple], 2098),
          ('CIMP status', t_cimp, [pink, red], 2135)]
for name, track, cols, top in tracks:
    a = px_axes(402, top, 1671, top + 31)
    a.imshow(track.reshape(1, -1), cmap=ListedColormap(cols), vmin=-0.5, vmax=len(cols) - 0.5, aspect='auto', interpolation='nearest', extent=[0, n_samples, 0, 1])
    a.vlines(np.arange(1, n_samples), 0, 1, color='white', alpha=0.18, linewidth=0.6)
    a.axis('off')
    txt(388, top + 19, name, size=20, weight='bold', ha='right')

# ---------- Panel H legend
pg.plot([751, 751], [2209, 2473], color='#222222', linewidth=1.0)
leg_rows = [('OLIG2/CD276 expression', 2228, [(770, brown, 'OLIG2 high/CD276  low'), (1047, yellow, 'OLIG2 low/CD276  high')]),
            ('Gender', 2274, [(770, pink, 'Female'), (917, pale, 'Male')]),
            ('Expression subtype', 2320, [(770, blue, 'Classical'), (917, red, 'Mesenchymal'), (1111, green, 'Neural'), (1228, orange, 'Proneural')]),
            ('MGMT status', 2366, [(770, dark_blue, 'Methylated'), (917, pale, 'Unmethylated')]),
            ('IDH status', 2412, [(770, purple, 'Mutant'), (917, lilac, 'Wild\u2212type')]),
            ('CIMP status', 2458, [(770, red, 'G\u2212CIMP'), (917, pink, 'NON G\u2212CIMP'), (1317, grey, 'N/A')])]
for name, y, items in leg_rows:
    txt(732, y - 1, name, size=14.7, ha='right', color='#222222')
    for sx, c, lab in items:
        swatch(sx, sx + 29, y, 29, c, edge='#888888')
        txt(sx + 35, y - 1, lab, size=14, color='#222222')

fig.savefig('out.png', dpi=100)
